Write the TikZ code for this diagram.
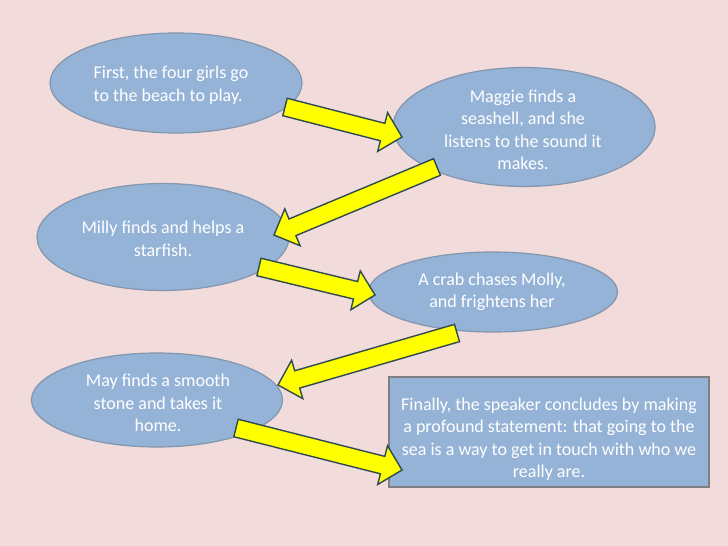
\documentclass[tikz,border=0pt]{standalone}
\usepackage{fontspec}
\setmainfont{Carlito}
\usetikzlibrary{calc,shapes.geometric}
\definecolor{bgpink}{HTML}{F2DCDB}
\definecolor{ovalblue}{HTML}{95B3D7}
\definecolor{ovaledge}{HTML}{8496AE}
\definecolor{boxedge}{HTML}{7F7F7F}
\definecolor{arrowfill}{HTML}{FFFF00}
\definecolor{arrowedge}{HTML}{2F4A50}
\tikzset{
  oval/.style={ellipse, fill=ovalblue, draw=ovaledge, line width=1.2pt, inner sep=0pt, outer sep=0pt},
  storybox/.style={rectangle, fill=ovalblue, draw=boxedge, line width=1.2pt, inner sep=0pt, outer sep=0pt},
  txt/.style={text=white, align=center, inner sep=0pt, font=\fontsize{18}{22.5}\selectfont},
  blockarrow/.style={fill=arrowfill, draw=arrowedge, line width=1.4pt, line join=miter},
}
\newcommand{\BlockArrow}[2]{%
  \coordinate (#1h) at ($(#2)!20pt!(#1)$);
  \draw[blockarrow] ($(#1)!9pt!90:(#2)$) -- ($(#1h)!9pt!90:(#2)$) -- ($(#1h)!20pt!90:(#2)$) -- (#2)
    -- ($(#1h)!20pt!-90:(#2)$) -- ($(#1h)!9pt!-90:(#2)$) -- ($(#1)!9pt!-90:(#2)$) -- cycle;
}
\begin{document}
\begin{tikzpicture}[x=1pt,y=-1pt]
\useasboundingbox (0,0) rectangle (728,546);
\fill[bgpink] (0,0) rectangle (728,546);

\node[oval, minimum width=252pt, minimum height=100pt] (e1) at (176,83) {};
\node[oval, minimum width=262pt, minimum height=119pt] (e2) at (524,127) {};
\node[oval, minimum width=252pt, minimum height=107pt] (e3) at (163,237) {};
\node[oval, minimum width=249pt, minimum height=80pt] (e4) at (493,292) {};
\node[oval, minimum width=251pt, minimum height=94pt] (e5) at (157,400) {};
\node[storybox, minimum width=320pt, minimum height=110pt] (r6) at (549,432) {};

\node[txt, align=left] (t1) at (171,85) {First, the four girls go\\to the beach to play.};
\node[txt] (t2) at (523,130) {Maggie finds a\\seashell, and she\\listens to the sound it\\makes.};
\node[txt] (t3) at (163,239) {Milly finds and helps a\\starfish.};
\node[txt] (t4) at (492,292) {A crab chases Molly,\\and frightens her};
\node[txt] (t5) at (158,403) {May finds a smooth\\stone and takes it\\home.};
\node[txt] (t6) at (549,439) {Finally, the speaker concludes by making\\a profound statement: that going to the\\sea is a way to get in touch with who we\\really are.};

\coordinate (a1s) at (285,107); \coordinate (a1e) at (402,137);
\coordinate (a2s) at (437,167); \coordinate (a2e) at (274,235);
\coordinate (a3s) at (259,267); \coordinate (a3e) at (375,295);
\coordinate (a4s) at (457,333); \coordinate (a4e) at (278,385);
\coordinate (a5s) at (236,428); \coordinate (a5e) at (402,470);
\BlockArrow{a1s}{a1e}
\BlockArrow{a2s}{a2e}
\BlockArrow{a3s}{a3e}
\BlockArrow{a4s}{a4e}
\BlockArrow{a5s}{a5e}
\end{tikzpicture}
\end{document}
